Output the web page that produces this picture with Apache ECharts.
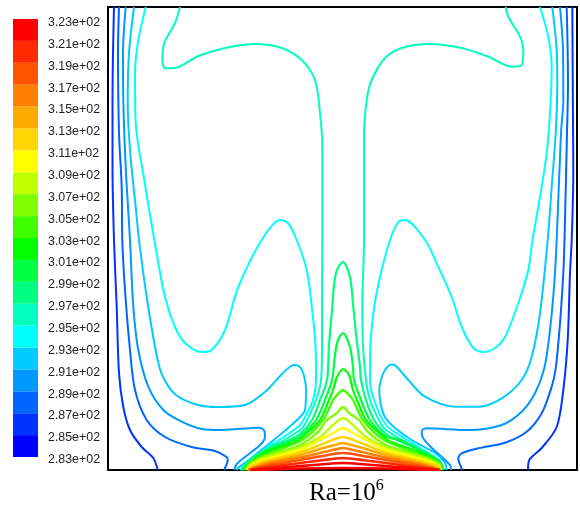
<!DOCTYPE html>
<html>
<head>
<meta charset="utf-8">
<style>html,body{margin:0;padding:0;background:#fff}#c{width:580px;height:515px}</style>
<script src="https://cdn.jsdelivr.net/npm/echarts@6/dist/echarts.min.js"></script>
</head>
<body>
<div id="c"></div>
<script>
// Colour-bar tick labels, bottom to top
const tickLabels = ['2.83e+02','2.85e+02','2.87e+02','2.89e+02','2.91e+02','2.93e+02','2.95e+02','2.97e+02','2.99e+02','3.01e+02','3.03e+02','3.05e+02','3.07e+02','3.09e+02','3.11e+02','3.13e+02','3.15e+02','3.17e+02','3.19e+02','3.21e+02','3.23e+02'];
// Colour-bar bands, bottom to top
const bandColors = ['#0000ff','#0033ff','#0066ff','#0099ff','#00ccff','#00ffff','#00ffbf','#00ff80','#00ff40','#00ff00','#40ff00','#80ff00','#bfff00','#ffff00','#ffd500','#ffaa00','#ff8000','#ff5500','#ff2a00','#ff0000'];
const bandSizes = bandColors.map(() => 1);

// Isotherms: [horizontal position, height above hot wall]
const t285L = [[6,463],[5,417],[4.5,370],[4.5,303],[6,230],[8.7,163],[11,97],[15.3,63],[22,40],[33.7,23],[45.3,12],[49.7,0]];
const t285R = [[420,0],[421.3,10],[433.7,22],[448.7,43],[455.3,80],[459.7,130],[462,197],[463.7,230],[465.3,297],[465,350],[464.3,463]];
const t287L = [[11,463],[10,417],[11,337],[13.7,283],[14.3,230],[17,180],[22,120],[27,80],[38.7,50],[57,33],[83.7,23],[107,19],[118.7,13],[119.7,10],[116,0]];
const t287R = [[354.3,0],[350.3,11.7],[353.7,16.7],[370.3,21.7],[397,27.3],[418.7,38.3],[433.7,56.7],[443.7,83.3],[447.7,101.7],[452,146.7],[455.3,196.7],[456.5,230],[459,337],[460,387],[458.7,463]];
const t289L = [[126.3,0],[128.7,6],[157,33.3],[156.3,39.3],[151,42.3],[113.7,40],[93.7,41],[73.7,48.3],[55.3,60],[40.3,83.3],[30.3,120],[25.3,163.3],[22,230],[17.7,303.3],[15.3,370],[15,417],[17.7,463]];
const t289R = [[343,0],[342,5],[314.3,33.3],[313.7,39.3],[318.7,41.7],[360.3,40],[393.7,45],[413.7,58.3],[427,76.7],[436.3,101.7],[442,140],[446.3,186.7],[448.7,230],[453,337],[455.3,370],[455,420],[452,463]];
const t291L = [[26,463],[21,417],[19.7,370],[22,320],[28.7,253],[31,230],[38.7,173],[49,113],[55,93],[68,75],[90,65],[110,63],[137,65],[157,78],[174,96],[183,104],[188,105],[194,100],[198,80],[197,60],[189,50],[173,36],[157,23],[142,11],[130,2],[129,0]];
const t291R = [[338.7,0],[337,7],[327,17],[303.7,30],[283.7,45],[275.3,56.7],[271.3,80],[275.3,97],[280.3,104],[284,105.5],[288,104],[300.3,90],[317,73.3],[347,63.3],[370.3,63.3],[393.7,71.7],[413.7,90],[423.7,113.3],[432,156.7],[439.7,230],[443.7,283],[447.7,337],[449.3,387],[448.7,420],[444.3,463]];
const t293L = [[37.7,463],[30.3,430],[27,397],[27.7,347],[36.3,290],[46.3,230],[57,173],[67,143],[77,127],[93.7,118],[103.7,120],[117,140],[130.3,183],[153.7,230],[172,250],[180,247],[188.7,230],[198.7,200],[205.3,150],[207.7,120],[208,90],[205,70],[199,57],[192,45],[174,32],[157,21.5],[142,10],[132,0]];
const t293R = [[336,0],[331,10],[313,21.5],[296,32],[278,45],[266,70],[262,90],[262,113],[265.3,156.7],[272,193],[282,230],[290.3,248],[297,250],[317,230],[328.7,206.7],[343.7,173],[353.7,143],[365.3,122],[375.3,118],[387,122],[397,133],[410.3,167],[420.3,200],[424.5,230],[432,273],[438.7,317],[442,357],[443.7,403],[440.3,433],[432,463]];
const t295L = [[133,0],[142,9.5],[157,20.5],[174,29],[192,40],[197,46],[208,70],[213,90],[214,125],[214,167],[214.3,230],[214.3,323],[212,357],[207,390],[193.7,410],[173.7,422],[147,426],[117,422],[90.3,414],[65.3,401.7],[57,401.7],[54.3,410],[56.3,427],[67,447],[72,463]];
const t295R = [[335.5,0],[331,9.5],[313,20.5],[296,29],[278,40],[273,46],[262,70],[258,90],[255,125],[254.3,163],[256,230],[256,333.3],[258.7,370],[263.7,390],[277,412],[293.7,422],[320.3,426],[353.7,422],[380.3,413.3],[403.7,403.3],[413.7,405],[415.3,420],[412,433.3],[400.3,453.3],[397.7,463]];
const t297 = [[134,0],[142,9],[157,19.5],[179,29],[192,36],[204,50],[212,70],[219,90],[221,125],[224,160],[226,185],[229,200],[235,208],[242,193],[245.3,163],[248.7,130],[252,103],[253,90],[258,70],[266,50],[278,36],[291,29],[313,19.5],[331,9],[335,0]];
const t299 = [[135,0],[142,8.5],[157,18.5],[184,29.5],[192,33.5],[208,50],[217,70],[224,90],[227,115],[230,130],[235,137],[242,123],[245,103],[246,90],[253,70],[262,50],[278,33.5],[294,29.5],[313,18.5],[331,8.5],[334.5,0]];
const t301 = [[136,0],[142,8],[157,17],[189,29],[192,31],[212,50],[221,70],[225,80],[229,93],[235,101],[241,95],[245,80],[249,70],[258,50],[278,31],[281,29],[313,17],[331,8],[334,0]];
const t303 = [[137,0],[142,7],[157,15.5],[194,30],[215,50],[225,70],[230,76],[235,80],[240,76],[245,70],[255,50],[276,30],[313,15.5],[331,7],[333.5,0]];
const t305 = [[138,0],[142,6],[157,14],[192,25],[210,38],[219,50],[229,57],[235,63],[241,57],[251,50],[260,38],[278,25],[313,14],[331,6],[333,0]];
const t307 = [[138.5,0],[142,5],[157,12.5],[192,22.5],[212,33],[225,45],[235,52],[245,45],[258,33],[278,22.5],[313,12.5],[331,5],[333,0]];
const t309 = [[139,0],[142,4],[157,10.5],[192,20],[212,30],[227,38],[235,42],[243,38],[258,30],[278,20],[313,10.5],[331,4],[332.5,0]];
const t311 = [[139.5,0],[142,3.5],[157,9],[192,17.5],[212,25],[227,31],[235,33],[243,31],[258,25],[278,17.5],[313,9],[331,3.5],[332.5,0]];
const t313 = [[140,0],[157,7],[192,15],[212,21],[227,25],[235,27],[243,25],[258,21],[278,15],[313,7],[332,0]];
const t315 = [[140.5,0],[157,5.5],[192,12.5],[212,17],[227,20.5],[235,22],[243,20.5],[258,17],[278,12.5],[313,5.5],[332,0]];
const t317 = [[141,0],[157,4],[192,10],[212,13.5],[235,17],[258,13.5],[278,10],[313,4],[332,0]];
const t319 = [[142,0],[157,2.5],[192,7],[212,9.5],[235,12],[258,9.5],[278,7],[313,2.5],[332,0]];
const t321 = [[143,0],[157,1],[192,4],[212,5.5],[235,7],[258,5.5],[278,4],[313,1],[331,0]];
const t322 = [[147,0],[192,1.5],[235,2],[278,1.5],[329,0]];

const isotherms = [
  [t285L,1,2],[t285R,1,2],[t287L,2,2],[t287R,2,2],[t289L,3,2],[t289R,3,2],[t291L,4,2],[t291R,4,2],[t293L,5,2],[t293R,5,2],[t295L,6,2],[t295R,6,2],
  [t297,7,2.2],[t299,8,2.2],[t301,9,2.2],[t303,10,2.4],[t305,11,2.4],[t307,12,2.4],[t309,13,2.4],[t311,14,2.6],[t313,15,2.6],[t315,16,2.6],[t317,17,2.6],[t319,18,2.6],[t321,19,2.6],[t322,19,2.6]
];

const chart = echarts.init(document.getElementById('c'), null, {renderer:'canvas'});

const barSeries = bandColors.map((color,i) => ({
  type:'bar', xAxisIndex:1, yAxisIndex:1, stack:'bar', barWidth:'100%',
  data:[bandSizes[i]], itemStyle:{color}, silent:true
}));
const lineSeries = isotherms.map(([pts,idx,w]) => ({
  type:'line', xAxisIndex:0, yAxisIndex:0, data:pts, showSymbol:false, symbol:'none',
  smooth:0.3, clip:true, silent:true,
  lineStyle:{color:bandColors[idx], width:w}
}));

chart.setOption({
  animation:false,
  backgroundColor:'#fff',
  title:{
    left:309, top:475.5, padding:0,
    text:'{b|Ra=10}{s|6}',
    textStyle:{
      fontWeight:'normal',
      rich:{
        b:{fontFamily:'Liberation Serif',fontSize:25,fontWeight:'normal',color:'#000',lineHeight:30,verticalAlign:'bottom'},
        s:{fontFamily:'Liberation Serif',fontSize:16,fontWeight:'normal',color:'#000',lineHeight:30,verticalAlign:'top',padding:[2,0,0,0]}
      }
    }
  },
  grid:[
    {left:108, top:7, width:469, height:463, show:true, borderColor:'#000', borderWidth:2, backgroundColor:'#fff'},
    {left:13, top:19, width:25, height:438, show:false},
    {left:13, top:22.5, width:25, height:437.3, show:false}
  ],
  xAxis:[
    {type:'value', gridIndex:0, min:0, max:469, show:false},
    {type:'category', gridIndex:1, data:['T'], show:false, boundaryGap:true},
    {type:'category', gridIndex:2, data:['T'], show:false}
  ],
  yAxis:[
    {type:'value', gridIndex:0, min:0, max:463, show:false},
    {type:'value', gridIndex:1, min:0, max:20, show:false},
    {type:'value', gridIndex:2, min:0, max:20, interval:1, position:'right',
      axisLine:{show:false}, axisTick:{show:false}, splitLine:{show:false},
      axisLabel:{show:true, margin:10, fontFamily:'Liberation Sans', fontSize:12.4, color:'#222',
        showMinLabel:true, showMaxLabel:true,
        formatter:(v) => tickLabels[v]}}
  ],
  series:[...barSeries, ...lineSeries]
});
</script>
</body>
</html>
